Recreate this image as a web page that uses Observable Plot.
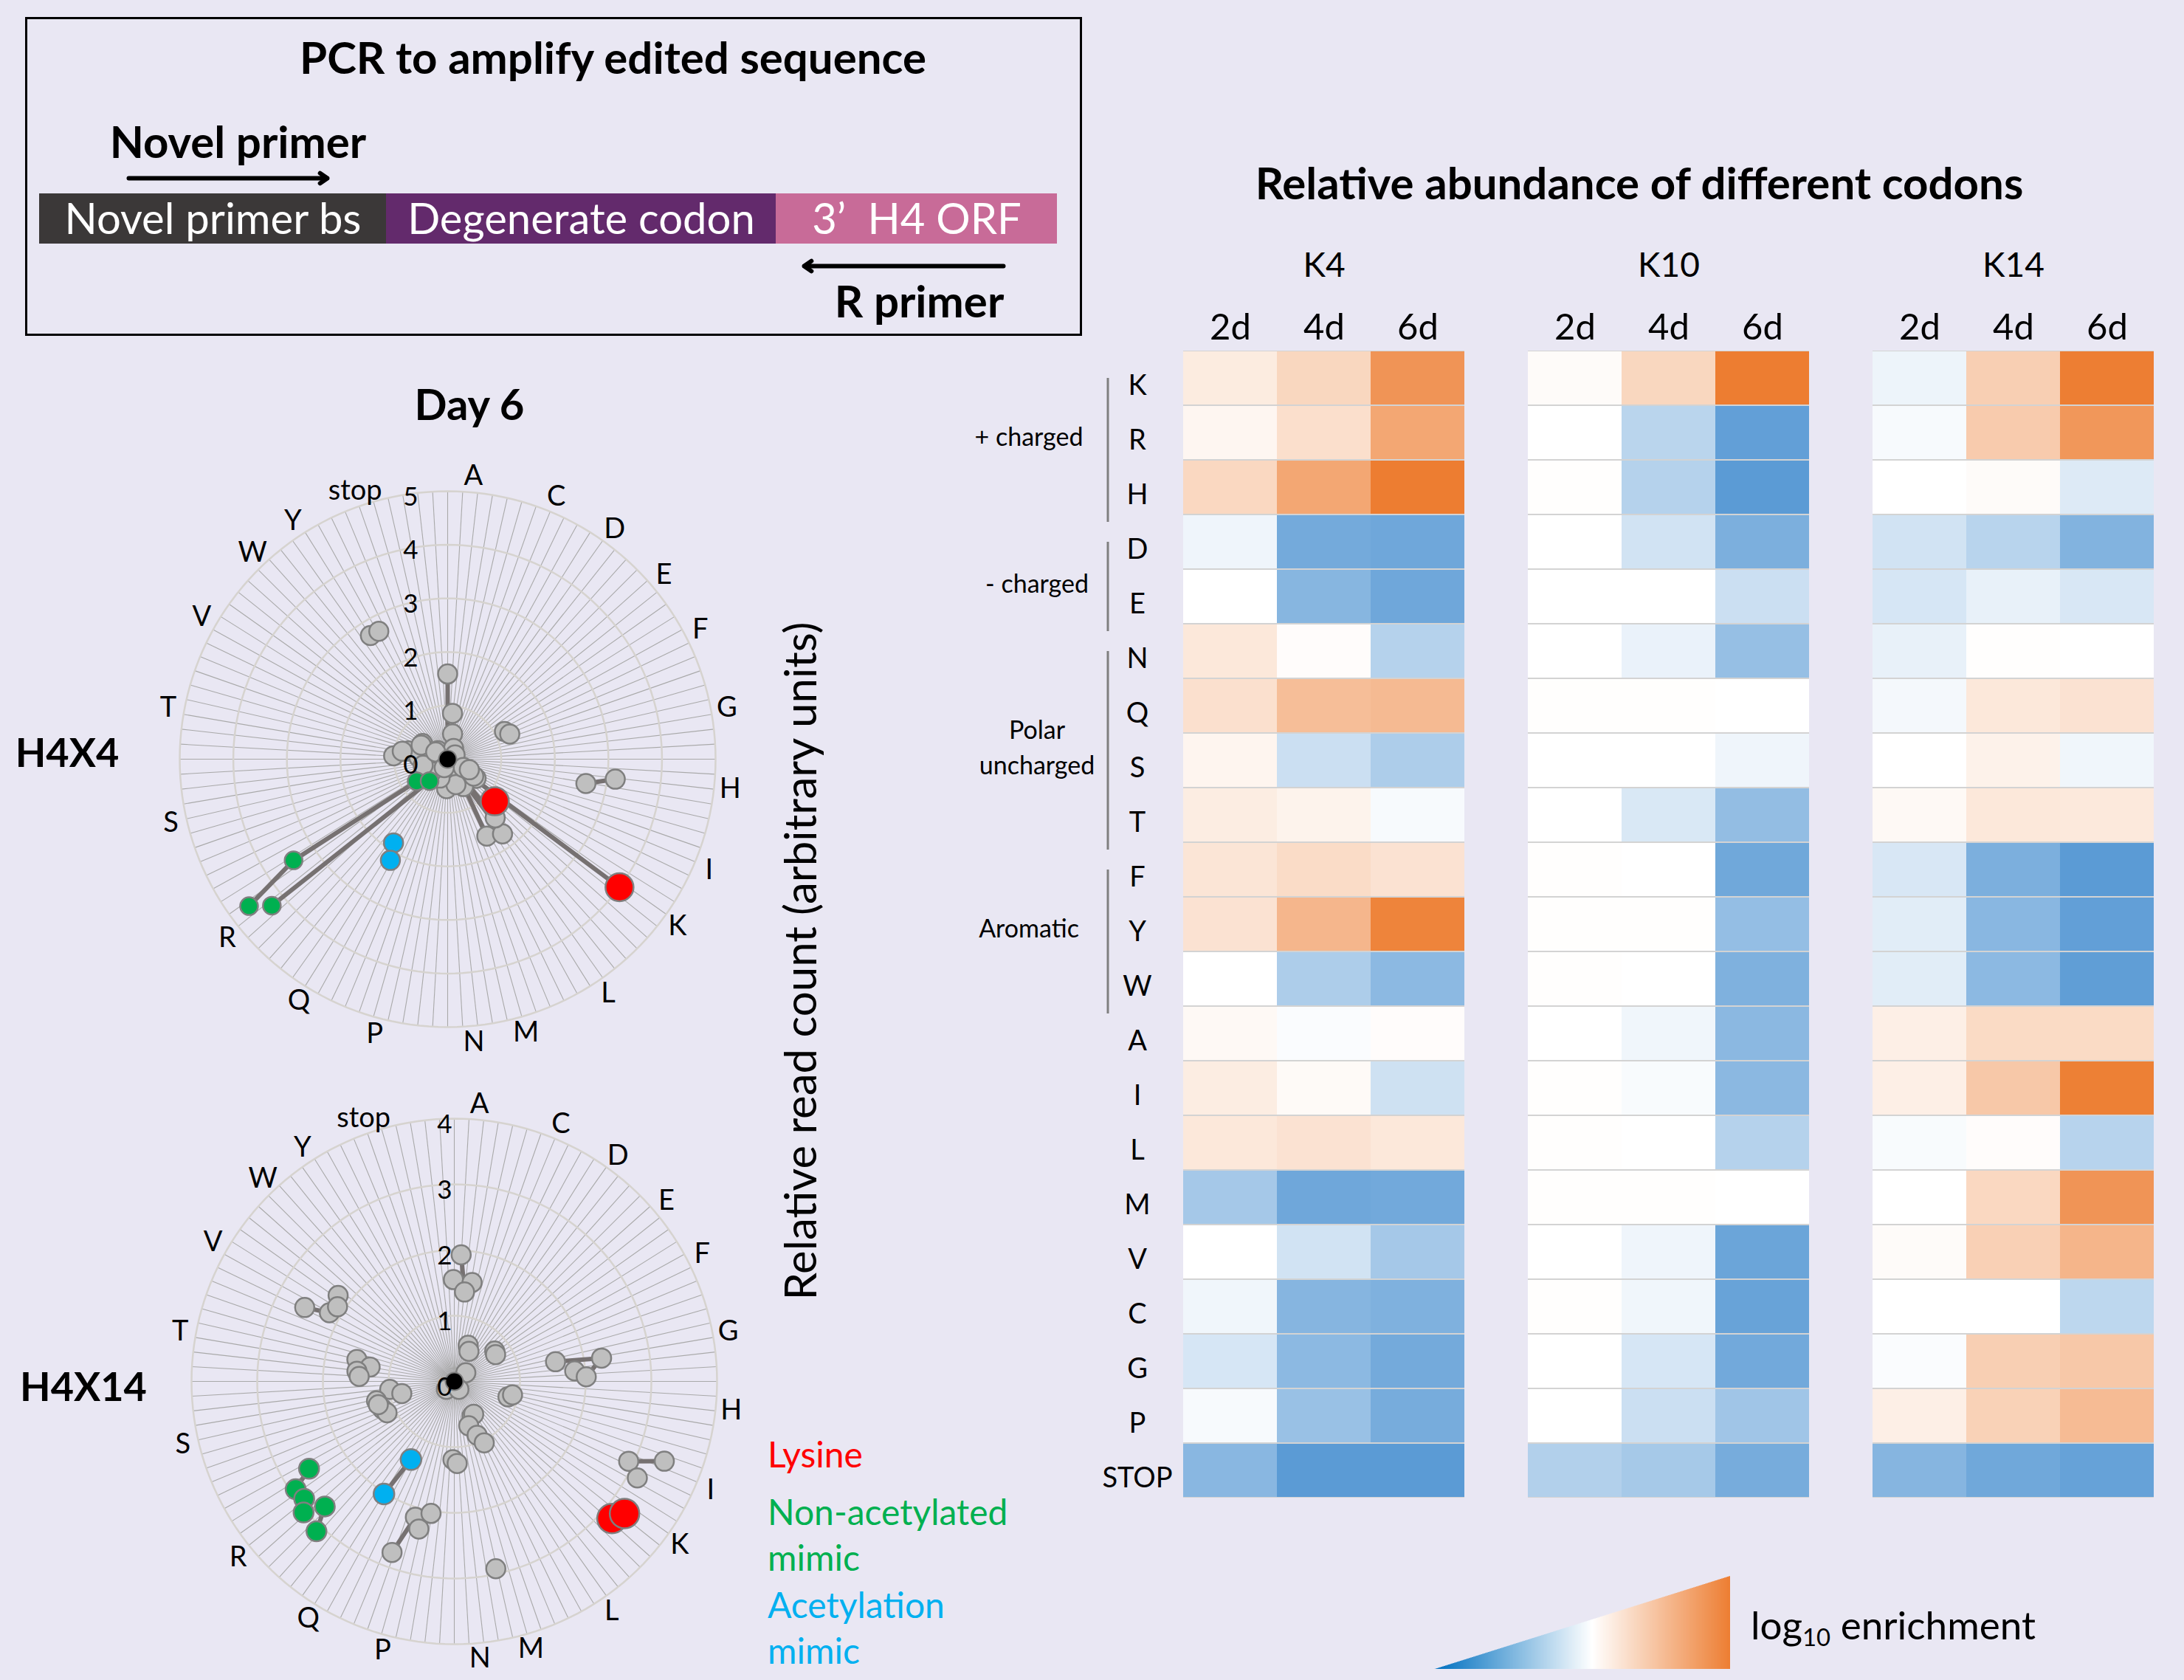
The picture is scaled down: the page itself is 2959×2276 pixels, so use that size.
<!DOCTYPE html>
<html><head><meta charset="utf-8">
<script src="https://cdn.jsdelivr.net/npm/d3@7"></script>
<script src="https://cdn.jsdelivr.net/npm/@observablehq/plot@0.6"></script>
<style>
html,body{margin:0;padding:0;background:#e9e7f3;}
#fig{position:relative;width:2959px;height:2276px;background:#e9e7f3;overflow:hidden;font-family:Lato,"Open Sans",sans-serif;color:#000;}
#fig > svg, #fig > div{position:absolute;}
.t{position:absolute;white-space:nowrap;line-height:1;}
sub{font-size:0.62em;vertical-align:-0.28em;line-height:0;}
</style></head><body><div id="fig"></div>
<script>
// ---------------- Heatmap data ----------------
const codons = ["K","R","H","D","E","N","Q","S","T","F","Y","W","A","I","L","M","V","C","G","P","STOP"];
const days = ["2d","4d","6d"];
const sites = ["K4","K10","K14"];
const k4_2d  = [0.15,0.07,0.30,-0.10,0.00,0.18,0.24,0.08,0.14,0.20,0.22,0.00,0.05,0.14,0.18,-0.55,0.00,-0.09,-0.25,-0.05,-0.72];
const k4_4d  = [0.31,0.25,0.68,-0.85,-0.73,0.02,0.50,-0.32,0.09,0.27,0.56,-0.50,-0.03,0.04,0.22,-0.88,-0.28,-0.74,-0.70,-0.62,-1.00];
const k4_6d  = [0.82,0.68,1.00,-0.88,-0.88,-0.45,0.53,-0.50,-0.05,0.22,0.95,-0.70,0.02,-0.30,0.18,-0.86,-0.55,-0.78,-0.85,-0.83,-1.00];
const k10_2d = [0.03,0.00,0.01,0.00,0.00,0.00,0.01,0.00,0.00,0.01,0.01,0.01,0.00,0.01,0.01,0.01,0.00,0.01,0.00,0.00,-0.47];
const k10_4d = [0.31,-0.42,-0.45,-0.28,0.00,-0.13,0.01,0.00,-0.23,0.00,0.01,0.00,-0.09,-0.04,0.00,0.01,-0.10,-0.09,-0.25,-0.32,-0.54];
const k10_6d = [1.00,-0.96,-1.00,-0.80,-0.32,-0.64,0.00,-0.10,-0.66,-0.87,-0.65,-0.78,-0.71,-0.71,-0.45,0.00,-0.90,-0.92,-0.86,-0.58,-0.83];
const k14_2d = [-0.11,-0.05,0.00,-0.28,-0.25,-0.14,-0.07,0.00,0.05,-0.24,-0.18,-0.18,0.12,0.12,-0.04,0.00,0.03,0.00,-0.03,0.12,-0.74];
const k14_4d = [0.37,0.40,0.03,-0.43,-0.14,0.01,0.18,0.10,0.18,-0.80,-0.72,-0.70,0.28,0.42,0.02,0.30,0.36,0.00,0.37,0.35,-0.87];
const k14_6d = [0.99,0.80,-0.21,-0.76,-0.24,0.00,0.22,-0.09,0.17,-1.00,-0.96,-0.97,0.28,0.98,-0.44,0.82,0.57,-0.40,0.42,0.52,-0.93];
const groups = [
  {label:"+ charged", first:"K", last:"H", at:"R", raise:false},
  {label:"- charged", first:"D", last:"E", at:"E", raise:true},
  {label:"Polar\nuncharged", first:"N", last:"T", at:"S", raise:true},
  {label:"Aromatic", first:"F", last:"W", at:"Y", raise:false}
];

// ---------------- Radial (Day 6) data: angle (deg, clockwise from top), value ----------------
const catLabels = [
  {name:"A",a:5.2},{name:"C",a:22.5},{name:"D",a:36},{name:"E",a:49.6},{name:"F",a:62.8},{name:"G",a:79.6},
  {name:"H",a:96},{name:"I",a:113},{name:"K",a:126},{name:"L",a:145.6},{name:"M",a:164},{name:"N",a:174.7},
  {name:"P",a:194.9},{name:"Q",a:211.6},{name:"R",a:230.9},{name:"S",a:257},{name:"T",a:280.4},{name:"V",a:300},
  {name:"W",a:316.6},{name:"Y",a:327},{name:"stop",a:341}
];
const h4x4Gray = [
  [328,2.72],[331.7,2.71],[0,1.59],[6,0.86],[11,0.48],[64,1.18],[68,1.25],[100,2.62],[96.8,3.15],
  [153,1.61],[143.7,1.73],[141,1.41],[124,0.64],[150,0.59],[182,0.55],
  [273.6,1.01],[282,0.75],[302,0.55],[274,0.54],[311,0.24],
  [29,0.23],[138,0.37],[123,0.58],[162,0.5],[202,0.38],[232,0.38],[256,0.47],[280,0.86],[298,0.56],
  [301,0.26],[60,0.16],[118,0.33],[202,0.17],[116,0.45]
];
const h4x4Green = [[234.5,0.71],[219.6,0.53],[236.7,3.44],[233.5,4.61],[230.2,4.27]];
const h4x4Blue = [[212.9,1.86],[209.5,2.17]];
const h4x4Red = [[131.8,1.18],[126.7,4.0]];
const h4x4Black = [[0,0]];
const h4x4Lines = [
  {g:1, pts:[[0,1.59],[0,0]]},
  {g:2, pts:[[127,0],[126.7,4.0]]},
  {g:3, pts:[[145,0.35],[153,1.61]]},
  {g:4, pts:[[145,0.35],[143.7,1.73]]},
  {g:5, pts:[[142,0.3],[141,1.41]]},
  {g:6, pts:[[100,2.62],[96.8,3.15]]},
  {g:7, pts:[[234.5,0.71],[236.7,3.44],[233.5,4.61]]},
  {g:8, pts:[[219.6,0.53],[230.2,4.27]]}
];
const h4x14Gray = [
  [359.5,1.55],[10.2,1.53],[6.5,1.37],[3.1,1.93],[21,0.59],[26,0.51],[53,0.77],[57,0.75],[53,0.22],
  [79,1.57],[85,1.84],[88,2.01],[81,2.27],[106,0.85],[103,0.91],
  [114.6,2.92],[117.8,3.15],[110.8,3.42],
  [153,0.59],[149.4,0.58],[162,0.71],[157,0.89],[154,1.04],[181,1.19],[178,1.25],[167.5,2.92],
  [196,2.15],[190,2.04],[193.5,2.31],[200,2.77],
  [263,0.99],[257,0.82],[256,1.22],[249,1.17],[245,1.13],[253,1.21],
  [282.7,1.52],[279.7,1.30],[276,1.49],[273,1.45],
  [296.3,2.54],[306.5,2.2],[298.8,2.17],[302.6,2.11],
  [225,0.17],[150,0.14]
];
const h4x14Green = [[239,2.58],[235.8,2.92],[232,2.9],[229,3.04],[226,2.74],[222.6,3.1]];
const h4x14Blue = [[209,1.36],[212,2.02]];
const h4x14Red = [[131,3.18],[127.8,3.28]];
const h4x14Black = [[0,0]];
const h4x14Lines = [
  {g:1, pts:[[3.1,1.93],[6.5,1.37]]},
  {g:2, pts:[[79,1.57],[81,2.27],[88,2.01]]},
  {g:3, pts:[[110.8,3.42],[114.6,2.92],[117.8,3.15]]},
  {g:4, pts:[[200,2.77],[196,2.15]]},
  {g:5, pts:[[296.3,2.54],[298.8,2.17]]},
  {g:6, pts:[[209,1.36],[212,2.02]]},
  {g:7, pts:[[239,2.58],[235.8,2.92]]},
  {g:8, pts:[[226,2.74],[222.6,3.1]]}
];

// ---------------- PCR schematic data ----------------
const segments = [
  {label:"Novel primer bs", len:470, color:"#3b3838"},
  {label:"Degenerate codon", len:528, color:"#632a6c"},
  {label:"3\u2019  H4 ORF", len:381, color:"#c86b98"}
];
const primers = [
  {name:"Novel primer", from:121, to:390, y:218, labelX:269, labelY:171},
  {name:"R primer", from:1306, to:1036, y:337, labelX:1192, labelY:387}
];

// ---------------- build ----------------
const fig = document.getElementById("fig");
const FONT = "Lato, 'Open Sans', sans-serif";
function place(el, left, top){ el.style.left = left+"px"; el.style.top = top+"px"; fig.appendChild(el); return el; }
function txt(html, x, y, size, opts={}){
  const d = document.createElement("div");
  d.className = "t";
  d.innerHTML = html;
  d.style.fontSize = size+"px";
  d.style.fontWeight = opts.weight || 400;
  d.style.color = opts.color || "#000";
  const ax = opts.anchor === "start" ? "0" : opts.anchor === "end" ? "-100%" : "-50%";
  d.style.transform = `translate(${ax},-50%)`;
  d.style.left = x+"px"; d.style.top = y+"px";
  if (opts.rotate) { d.style.transformOrigin = "0 0"; d.style.transform = `rotate(${opts.rotate}deg) translate(-50%,-50%)`; }
  fig.appendChild(d);
  return d;
}

// PCR schematic
{
  let acc = 0;
  const segs = segments.map(s => { const o = {...s, start:acc, end:acc+s.len}; acc += s.len; return o; });
  const p = Plot.plot({
    width:1432, height:432, margin:0,
    x:{domain:[0,1379], range:[19,1398], axis:null},
    y:{domain:[0,432], range:[0,432], axis:null},
    style:{background:"transparent", fontFamily:FONT, overflow:"visible"},
    marks:[
      Plot.rect(segs, {x1:"start", x2:"end", y1:239, y2:307, fill:"color"}),
      Plot.text(segs, {x:d=>(d.start+d.end)/2, y:275, text:"label", fill:"white", fontSize:58}),
      Plot.arrow(primers, {x1:"from", x2:"to", y1:"y", y2:"y", stroke:"#000", strokeWidth:6, headLength:3, headAngle:70}),
      Plot.text(primers, {x:"labelX", y:"labelY", text:"name", fontWeight:"bold", fontSize:60}),
      Plot.text(["PCR to amplify edited sequence"], {x:777, y:57, text:d=>d, fontWeight:"bold", fontSize:60})
    ]
  });
  place(p, 34, 23);
  const box = document.createElement("div");
  box.style.width = "1432px"; box.style.height = "432px"; box.style.boxSizing = "border-box";
  box.style.border = "3px solid #000";
  place(box, 34, 23);
}

// Heatmap
{
  const series = {K4:{"2d":k4_2d,"4d":k4_4d,"6d":k4_6d}, K10:{"2d":k10_2d,"4d":k10_4d,"6d":k10_6d}, K14:{"2d":k14_2d,"4d":k14_4d,"6d":k14_6d}};
  const cells = [];
  for (const s of sites) for (const d of days) codons.forEach((c,i) => cells.push({site:s, day:d, codon:c, value:series[s][d][i]}));
  const colDx = 1666; // center of first column in page coords
  const p = Plot.plot({
    width:1659, height:1900,
    marginLeft:302, marginRight:40, marginTop:270, marginBottom:66,
    fx:{domain:sites, paddingInner:0.18, paddingOuter:0, axis:null},
    x:{domain:days, padding:0, axis:null},
    y:{domain:codons, padding:0, axis:null},
    color:{type:"linear", domain:[-1,0,1], range:["#5b9bd5","#ffffff","#ed7d31"], clamp:true},
    style:{background:"transparent", fontFamily:FONT, color:"#000", overflow:"visible"},
    marks:[
      Plot.cell(cells, {fx:"site", x:"day", y:"codon", fill:"#d3d3d3"}),
      Plot.cell(cells, {fx:"site", x:"day", y:"codon", fill:"value", insetTop:1, insetBottom:1}),
      Plot.text(sites, {fx:d=>d, text:d=>d, frameAnchor:"top", dy:-128, fontSize:46, fill:"#000"}),
      Plot.text(days, {x:d=>d, text:d=>d, frameAnchor:"top", dy:-45, fontSize:49, fill:"#000"}),
      Plot.text(codons, {fx:()=>"K4", x:()=>"2d", y:d=>d, text:d=>d, dx:1540-colDx, dy:10, fontSize:38, fill:"#000"}),
      Plot.ruleX(groups, {fx:()=>"K4", x:()=>"2d", y1:"first", y2:"last", dx:1500-colDx, insetTop:37, insetBottom:-10, stroke:"#7f7f7f", strokeWidth:3}),
      Plot.text(groups.filter(g=>!g.raise), {fx:()=>"K4", x:()=>"2d", y:"at", text:"label", dx:1393-colDx, dy:2, fontSize:34, lineHeight:1.4, fill:"#000"}),
      Plot.text(groups.filter(g=>g.raise), {fx:()=>"K4", x:()=>"2d", y:"at", text:"label", dx:1404-colDx, dy:-21, fontSize:34, lineHeight:1.4, fill:"#000"})
    ]
  });
  place(p, 1300, 200);
  txt("Relative abundance of different codons", 2221, 247, 60, {weight:700});
}

// Gradient legend (triangle)
{
  const ramp = d3.range(0, 1, 0.005);
  const p = Plot.plot({
    width:400, height:126, margin:0,
    x:{domain:[0,1], range:[0,400], axis:null},
    y:{domain:[0,1], range:[126,0], axis:null},
    color:{type:"linear", domain:[0,0.53,1], range:["#0070c0","#ffffff","#ed7d31"]},
    style:{background:"transparent"},
    marks:[Plot.rectY(ramp, {x1:d=>d, x2:d=>d+0.0056, y1:0, y2:d=>d+0.0025, fill:d=>d})]
  });
  place(p, 1944, 2135);
  txt("log<sub>10</sub> enrichment", 2372, 2200, 53, {anchor:"start"});
}

// Radial plots
function radial(cfg){
  const {gray, green, blue, red, black, lines, rMax, cx, cy, unit, left, top, width, height, tickDx, sizes} = cfg;
  const nSpokes = 112;
  const rad = a => a*Math.PI/180;
  const X = d => d[1]*Math.sin(rad(d[0]));
  const Y = d => d[1]*Math.cos(rad(d[0]));
  const rings = d3.range(1, rMax+1).flatMap(k => d3.range(0, 361, 2).map(a => ({k, p:[a,k]})));
  const spokes = d3.range(nSpokes).map(i => [i*360/nSpokes, rMax]);
  const linePts = lines.flatMap(l => l.pts.map(p => ({g:l.g, p})));
  const LR = rMax*1.06;
  const p = Plot.plot({
    width, height, margin:0,
    x:{domain:[-(cx-left)/unit, (left+width-cx)/unit], range:[0,width], axis:null},
    y:{domain:[-(top+height-cy)/unit, (cy-top)/unit], range:[height,0], axis:null},
    style:{background:"transparent", fontFamily:FONT, overflow:"visible", color:"#000"},
    marks:[
      Plot.link(spokes, {x1:0, y1:0, x2:X, y2:Y, stroke:"#a9a9a9", strokeWidth:1.1}),
      Plot.line(rings, {x:d=>X(d.p), y:d=>Y(d.p), z:"k", stroke:"#d6d3cf", strokeWidth:2.5}),
      Plot.line(linePts, {x:d=>X(d.p), y:d=>Y(d.p), z:"g", stroke:"#767171", strokeWidth:6}),
      Plot.dot(gray, {x:X, y:Y, r:sizes.gray, fill:"#bfbfbf", stroke:"#7f7f7f", strokeWidth:2.5}),
      Plot.dot(green, {x:X, y:Y, r:sizes.green, fill:"#00b050", stroke:"#7f7f7f", strokeWidth:2.5}),
      Plot.dot(blue, {x:X, y:Y, r:sizes.blue, fill:"#00b0f0", stroke:"#7f7f7f", strokeWidth:2.5}),
      Plot.dot(red, {x:X, y:Y, r:sizes.red, fill:"#ff0000", stroke:"#7f7f7f", strokeWidth:2.5}),
      Plot.dot(black, {x:X, y:Y, r:sizes.black, fill:"#000000", stroke:"#7f7f7f", strokeWidth:2}),
      Plot.text(d3.range(0, rMax+1), {x:-tickDx/unit, y:d=>d, text:d=>String(d), dy:8, fontSize:35, fill:"#000"}),
      Plot.text(catLabels, {x:d=>LR*Math.sin(rad(d.a)), y:d=>LR*Math.cos(rad(d.a)), text:"name", fontSize:38, fill:"#000"})
    ]
  });
  place(p, left, top);
}
radial({gray:h4x4Gray, green:h4x4Green, blue:h4x4Blue, red:h4x4Red, black:h4x4Black, lines:h4x4Lines,
  rMax:5, cx:606, cy:1028, unit:72.6, left:170, top:600, width:880, height:860, tickDx:50,
  sizes:{gray:13, green:12, blue:13, red:19, black:12}});
radial({gray:h4x14Gray, green:h4x14Green, blue:h4x14Blue, red:h4x14Red, black:h4x14Black, lines:h4x14Lines,
  rMax:4, cx:615, cy:1871, unit:89, left:170, top:1470, width:880, height:806, tickDx:13,
  sizes:{gray:13, green:13.5, blue:14, red:20, black:12}});

txt("Day 6", 636, 547, 58, {weight:700});
txt("H4X4", 91, 1019, 54, {weight:700});
txt("H4X14", 113, 1878, 54, {weight:700});
txt("Relative read count (arbitrary units)", 1083, 1302, 60, {rotate:-90});

// category legend
txt("Lysine", 1040, 1970, 48, {anchor:"start", color:"#ff0000"});
txt("Non-acetylated", 1040, 2048, 48, {anchor:"start", color:"#00b050"});
txt("mimic", 1040, 2110, 48, {anchor:"start", color:"#00b050"});
txt("Acetylation", 1040, 2174, 48, {anchor:"start", color:"#00b0f0"});
txt("mimic", 1040, 2236, 48, {anchor:"start", color:"#00b0f0"});
</script></body></html>
